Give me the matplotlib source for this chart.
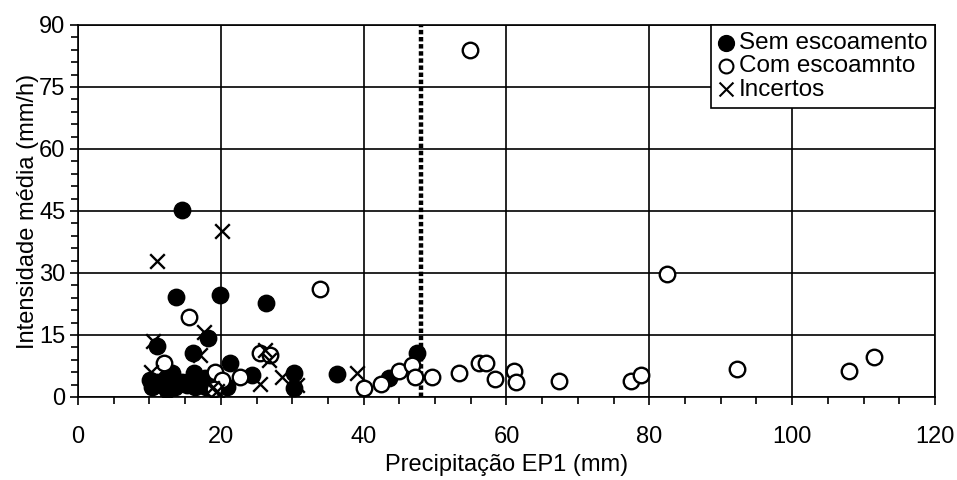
import matplotlib
matplotlib.use("Agg")
import matplotlib.pyplot as plt
from matplotlib.ticker import MultipleLocator

plt.rcParams["font.family"] = ["Liberation Sans", "DejaVu Sans"]

# Sem escoamento (filled circles)
sem_x = [14.5, 13.7, 19.9, 26.3, 18.2, 11.0, 16.1, 21.3, 24.3, 30.2, 30.2, 36.3,
         43.5, 47.4, 20.8, 17.8, 10.1, 10.3, 11.7, 12.3, 13.1, 13.6, 14.5, 15.2,
         16.2, 16.4, 17.4, 17.9, 12.5, 11.0, 15.8]
sem_y = [45.3, 24.3, 24.7, 22.7, 14.2, 12.3, 10.6, 8.1, 5.3, 5.9, 2.1, 5.5,
         4.5, 10.7, 2.5, 4.6, 4.1, 2.4, 2.9, 4.5, 5.7, 2.4, 3.7, 2.8,
         5.7, 2.5, 3.2, 2.4, 1.8, 3.5, 4.2]

# Com escoamnto (open circles)
com_x = [54.9, 82.5, 33.9, 15.5, 12.1, 25.5, 26.9, 19.2, 20.1, 22.7, 19.0, 40.1,
         42.4, 44.9, 46.7, 47.2, 49.6, 53.3, 56.2, 57.1, 58.4, 61.1, 61.3, 67.4,
         77.4, 78.8, 92.3, 108.0, 111.5]
com_y = [84.0, 29.8, 26.1, 19.4, 8.1, 10.7, 10.2, 6.1, 4.1, 4.9, 2.0, 2.1,
         3.1, 6.3, 7.7, 4.9, 4.9, 5.9, 8.1, 8.1, 4.4, 6.4, 3.7, 3.9,
         3.9, 5.3, 6.7, 6.3, 9.6]

# Incertos (x markers)
inc_x = [20.1, 11.1, 17.6, 10.5, 17.1, 26.2, 26.7, 10.2, 28.5, 25.5, 30.6, 18.7,
         39.0, 19.5]
inc_y = [40.2, 33.0, 15.8, 13.5, 10.2, 11.4, 9.0, 6.1, 4.9, 3.1, 2.8, 2.1,
         5.9, 1.5]

limiar = 48  # dotted threshold line

fig, ax = plt.subplots(figsize=(9.57, 4.8), dpi=100)
fig.subplots_adjust(left=0.0815, right=0.977, bottom=0.173, top=0.948)

ax.set_xlim(0, 120)
ax.set_ylim(0, 90)
ax.xaxis.set_major_locator(MultipleLocator(20))
ax.xaxis.set_minor_locator(MultipleLocator(5))
ax.yaxis.set_major_locator(MultipleLocator(15))
ax.yaxis.set_minor_locator(MultipleLocator(3))
ax.grid(True, which="major", color="black", linewidth=1.2)
ax.set_axisbelow(True)
ax.tick_params(which="both", direction="out", width=1.2, labelsize=17)
ax.tick_params(which="major", length=6)
ax.tick_params(which="minor", length=5)
ax.tick_params(axis="x", which="major", pad=15)
ax.tick_params(axis="y", which="major", pad=3)
for s in ax.spines.values():
    s.set_linewidth(1.2)

ax.axvline(limiar, color="black", linestyle=(0, (1, 0.6)), linewidth=3.2, zorder=2)

ax.scatter(sem_x, sem_y, s=140, color="black", zorder=3)
ax.scatter(com_x, com_y, s=125, facecolor="white", edgecolor="black",
           linewidth=1.7, zorder=4)
ax.scatter(inc_x, inc_y, s=110, marker="x", color="black", linewidth=1.7, zorder=5)

ax.set_xlabel("Precipitação EP1 (mm)", fontsize=17, labelpad=4)
ax.set_ylabel("Intensidade média (mm/h)", fontsize=17, labelpad=0)

h1 = ax.scatter([], [], s=130, color="black")
h2 = ax.scatter([], [], s=100, facecolor="white", edgecolor="black", linewidth=1.5)
h3 = ax.scatter([], [], s=100, marker="x", color="black", linewidth=1.5)
leg = ax.legend([h1, h2, h3], ["Sem escoamento", "Com escoamnto", "Incertos"],
                loc="upper right", borderaxespad=0, fancybox=False,
                edgecolor="black", framealpha=1, fontsize=17.5,
                handlelength=0.6, handletextpad=0.25, labelspacing=0.05,
                borderpad=0.3, scatterpoints=1)
leg.get_frame().set_linewidth(1.2)

fig.savefig("out.png", dpi=100)
